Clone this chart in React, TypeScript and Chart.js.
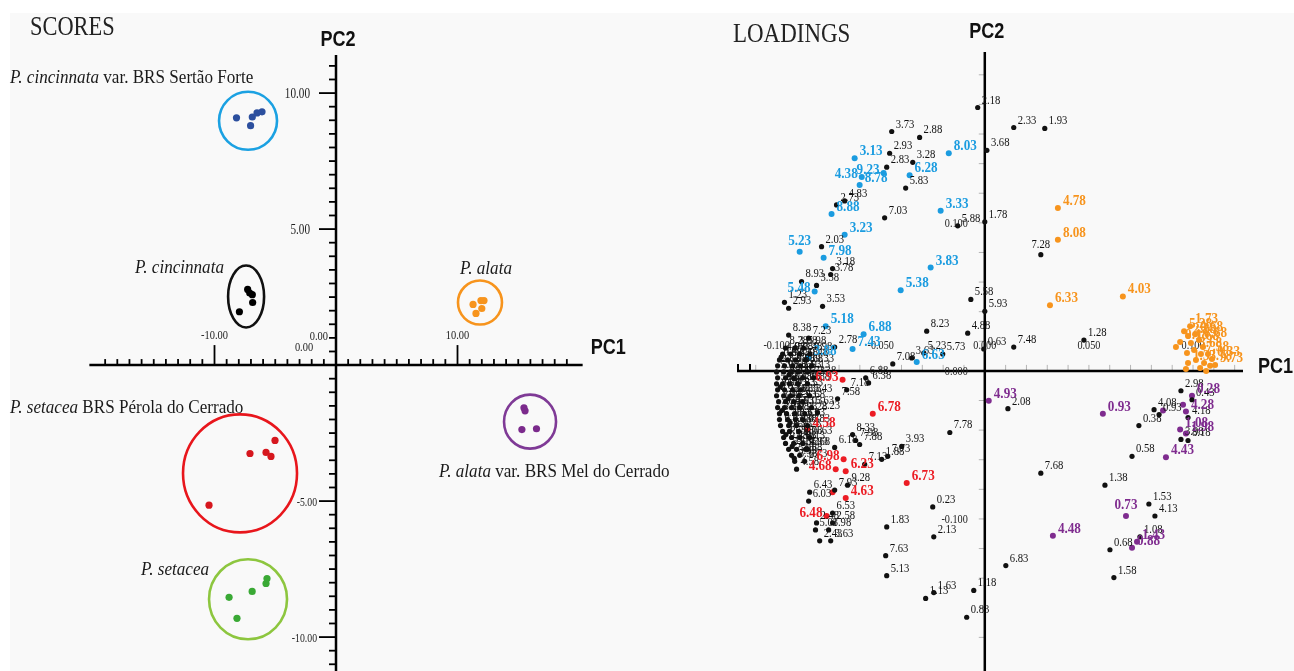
import React, { useEffect, useRef } from "react";
import { Chart, registerables } from "chart.js";
Chart.register(...registerables);

// ================= SCORES data =================
const sertaoForteX = [-8.19, -7.03, -6.89, -6.5, -6.09];
const sertaoForteY = [9.09, 8.8, 9.12, 9.27, 9.31];
const cincinnataX = [-7.27, -6.89, -6.86, -7.95, -7.1];
const cincinnataY = [2.78, 2.59, 2.3, 1.96, 2.65];
const alataX = [11.28, 11.93, 12.18, 11.52, 12.0];
const alataY = [2.23, 2.37, 2.37, 1.9, 2.08];
const melX = [15.47, 15.56, 15.3, 16.5];
const melY = [-1.57, -1.68, -2.37, -2.34];
const perolaX = [-5.02, -7.08, -5.76, -5.35, -10.45];
const perolaY = [-2.77, -3.25, -3.21, -3.36, -5.15];
const setaceaX = [-8.8, -8.15, -6.9, -5.76, -5.68];
const setaceaY = [-8.54, -9.31, -8.32, -8.03, -7.85];
// centres of the group rings
const groupCenterX = [-7.24, -7.4, 11.85, 15.97, -7.9, -7.24];
const groupCenterY = [8.98, 2.52, 2.3, -2.08, -3.98, -8.61];
// group names (italic part, roman part)
const groupNames: [string, string][] = [
  ["P. cincinnata", " var. BRS Sertão Forte"],
  ["P. cincinnata", ""],
  ["P. alata", ""],
  ["P. alata", " var. BRS Mel do Cerrado"],
  ["P. setacea", " BRS Pérola do Cerrado"],
  ["P. setacea", ""],
];
const scoreXTickLabels = [-10, 0, 10];
const scoreYTickLabels = [10, 5, 0, -5, -10];

// ================= LOADINGS data =================
type LP = [number, number, string];
const blackLoadings: LP[] = [
  [-0.0034, 0.1779, "2.18"], [-0.0447, 0.1617, "3.73"], [-0.0313, 0.1577, "2.88"],
  [-0.0457, 0.147, "2.93"], [-0.0346, 0.1409, "3.28"], [-0.0471, 0.1376, "2.83"],
  [-0.038, 0.1235, "5.83"], [-0.0712, 0.1121, "2.73"], [-0.0673, 0.1148, "4.83"],
  [-0.0481, 0.1034, "7.03"], [-0.013, 0.098, "5.88"], [0.0, 0.1007, "1.78"],
  [-0.0784, 0.0839, "2.03"], [-0.0731, 0.0691, "3.18"], [-0.074, 0.0651, "3.78"],
  [-0.088, 0.0604, "8.93"], [-0.0808, 0.0577, "3.58"], [-0.0962, 0.0463, "1.23"],
  [-0.0942, 0.0423, "2.93"], [-0.0779, 0.0436, "3.53"], [-0.0846, 0.0221, "7.23"],
  [-0.0942, 0.0242, "8.38"], [-0.0721, 0.0161, "2.78"], [-0.0442, 0.0047, "7.08"],
  [-0.0351, 0.0087, "3.63"], [-0.0293, 0.0121, "5.23"], [-0.0202, 0.0114, "5.73"],
  [-0.0279, 0.0268, "8.23"], [-0.0082, 0.0255, "4.88"], [-0.0067, 0.0483, "5.58"],
  [0.0, 0.0403, "5.93"], [-0.0005, 0.0148, "0.63"], [0.0139, 0.0161, "7.48"],
  [0.0476, 0.0208, "1.28"], [0.0139, 0.1644, "2.33"], [0.0288, 0.1638, "1.93"],
  [0.001, 0.149, "3.68"], [0.0269, 0.0785, "7.28"], [-0.0572, -0.0047, "6.88"],
  [-0.0558, -0.0081, "6.38"], [-0.0663, -0.0128, "7.18"], [-0.0707, -0.0188, "7.58"],
  [-0.0803, -0.0282, "2.23"], [-0.0635, -0.043, "8.33"], [-0.062, -0.047, "7.98"],
  [-0.0601, -0.0497, "7.88"], [-0.0721, -0.0517, "6.18"], [-0.0577, -0.0631, "7.13"],
  [-0.0495, -0.0597, "1.88"], [-0.0466, -0.0577, "7.73"], [-0.0399, -0.051, "3.93"],
  [-0.0168, -0.0416, "7.78"], [-0.025, -0.0919, "0.23"], [-0.0471, -0.1054, "1.83"],
  [-0.0245, -0.1121, "2.13"], [-0.0476, -0.1248, "7.63"], [-0.0471, -0.1383, "5.13"],
  [-0.0245, -0.1497, "1.63"], [-0.0284, -0.1537, "1.13"], [-0.0053, -0.1483, "1.18"],
  [-0.0087, -0.1664, "0.83"], [0.0101, -0.1315, "6.83"], [0.0111, -0.0255, "2.08"],
  [0.0269, -0.0691, "7.68"], [0.0577, -0.0772, "1.38"], [0.0788, -0.0899, "1.53"],
  [0.0817, -0.098, "4.13"], [0.0745, -0.1121, "1.08"], [0.0601, -0.1208, "0.68"],
  [0.062, -0.1396, "1.58"], [0.0707, -0.0577, "0.58"], [0.074, -0.0369, "0.38"],
  [0.0813, -0.0262, "4.08"], [0.0837, -0.0295, "0.93"], [0.0995, -0.0195, "0.43"],
  [0.0942, -0.0134, "2.98"], [0.0976, -0.0315, "4.18"], [0.0942, -0.0463, "3.98"],
  [0.0976, -0.047, "8.18"], [-0.0808, -0.1027, "2.48"], [-0.0731, -0.1027, "2.58"],
  [-0.0731, -0.096, "6.53"], [-0.0793, -0.1148, "2.43"], [-0.074, -0.1148, "3.63"],
  [-0.0813, -0.1074, "5.03"], [-0.075, -0.1074, "1.98"], [-0.0841, -0.0819, "6.43"],
  [-0.0846, -0.0879, "6.03"], [-0.0721, -0.0805, "7.93"], [-0.0659, -0.0772, "9.28"],
  [-0.0851, -0.053, "5.68"],
];
// dense group of loadings near PC1 = -0.09
const denseLoadings: LP[] = [
  [-0.0957, 0.0154, "8.28"], [-0.0913, 0.0154, "3.08"], [-0.087, 0.0154, "5.98"],
  [-0.0971, 0.0114, "4.98"], [-0.0933, 0.0114, "9.08"], [-0.0889, 0.0114, "3.48"], [-0.0841, 0.0114, "9.98"],
  [-0.0986, 0.0074, "0.98"], [-0.0947, 0.0074, "8.48"], [-0.0909, 0.0074, "6.58"], [-0.0861, 0.0074, "9.48"],
  [-0.0995, 0.0034, "2.63"], [-0.0962, 0.0034, "3.98"], [-0.0923, 0.0034, "8.58"], [-0.0885, 0.0034, "8.68"], [-0.0832, 0.0034, "9.33"],
  [-0.1, -0.0007, "5.08"], [-0.0966, -0.0007, "9.58"], [-0.0933, -0.0007, "7.33"], [-0.0894, -0.0007, "2.53"], [-0.0851, -0.0007, "9.13"],
  [-0.0995, -0.0047, "7.48"], [-0.0957, -0.0047, "8.73"], [-0.0918, -0.0047, "4.73"], [-0.0875, -0.0047, "9.73"], [-0.0822, -0.0047, "2.38"],
  [-0.1, -0.0087, "5.33"], [-0.0971, -0.0087, "9.63"], [-0.0938, -0.0087, "1.48"], [-0.0899, -0.0087, "6.08"], [-0.0851, -0.0087, "9.88"],
  [-0.0995, -0.0128, "8.98"], [-0.0962, -0.0128, "3.43"], [-0.0923, -0.0128, "7.53"], [-0.0885, -0.0128, "8.53"],
  [-0.1, -0.0168, "4.23"], [-0.0966, -0.0168, "9.38"], [-0.0933, -0.0168, "2.68"], [-0.0894, -0.0168, "7.38"], [-0.0841, -0.0168, "5.43"],
  [-0.099, -0.0208, "8.43"], [-0.0957, -0.0208, "9.53"], [-0.0918, -0.0208, "5.53"], [-0.0875, -0.0208, "6.68"],
  [-0.0995, -0.0248, "5.78"], [-0.0962, -0.0248, "6.13"], [-0.0928, -0.0248, "4.53"], [-0.0889, -0.0248, "9.03"], [-0.0832, -0.0248, "5.63"],
  [-0.0986, -0.0289, "3.38"], [-0.0952, -0.0289, "8.08"], [-0.0913, -0.0289, "9.93"], [-0.0865, -0.0289, "2.28"],
  [-0.0986, -0.0329, "6.28"], [-0.0947, -0.0329, "4.33"], [-0.0909, -0.0329, "8.63"], [-0.0875, -0.0329, "3.03"],
  [-0.0981, -0.0369, "9.43"], [-0.0942, -0.0369, "0.48"], [-0.0904, -0.0369, "4.03"], [-0.0851, -0.0369, "8.83"],
  [-0.0971, -0.0409, "7.83"], [-0.0938, -0.0409, "6.23"], [-0.0894, -0.0409, "9.23"],
  [-0.0966, -0.045, "3.73"], [-0.0928, -0.045, "5.88"], [-0.0889, -0.045, "7.08"], [-0.0841, -0.045, "6.63"],
  [-0.0957, -0.049, "9.78"], [-0.0918, -0.049, "4.88"], [-0.0875, -0.049, "8.13"],
  [-0.0942, -0.053, "5.18"], [-0.0904, -0.053, "6.93"], [-0.0861, -0.053, "4.93"],
  [-0.0928, -0.057, "7.18"], [-0.0889, -0.057, "8.88"],
  [-0.0913, -0.0611, "5.38"], [-0.0865, -0.0611, "6.73"],
  [-0.0904, -0.0664, "4.58"],
  [-0.0978, 0.0094, "1.03"], [-0.094, -0.0027, "2.88"], [-0.0982, -0.0107, "6.48"],
  [-0.0945, -0.0188, "3.23"], [-0.0975, -0.0268, "7.63"], [-0.0935, -0.0349, "2.13"],
  [-0.0955, -0.043, "8.38"], [-0.0925, -0.051, "0.73"], [-0.0915, -0.059, "3.33"],
];
const blueLoadings: LP[] = [
  [-0.0625, 0.1436, "3.13"], [-0.0486, 0.1336, "9.23"], [-0.0591, 0.1309, "4.38"],
  [-0.0601, 0.1255, "8.78"], [-0.0361, 0.1322, "6.28"], [-0.0173, 0.147, "8.03"],
  [-0.0212, 0.1081, "3.33"], [-0.0736, 0.106, "8.88"], [-0.0673, 0.0919, "3.23"],
  [-0.0889, 0.0805, "5.23"], [-0.0774, 0.0765, "7.98"], [-0.026, 0.0698, "3.83"],
  [-0.0404, 0.0544, "5.38"], [-0.0817, 0.0537, "5.48"], [-0.0764, 0.0302, "5.18"],
  [-0.0582, 0.0248, "6.88"], [-0.0846, 0.0087, "3.88"], [-0.0635, 0.0148, "7.43"],
  [-0.0327, 0.006, "6.63"],
];
const redLoadings: LP[] = [
  [-0.0683, -0.006, "6.93"], [-0.0538, -0.0289, "6.78"], [-0.0851, -0.0396, "4.58"],
  [-0.0678, -0.0597, "6.98"], [-0.0716, -0.0664, "4.68"], [-0.0668, -0.0678, "6.23"],
  [-0.0375, -0.0758, "6.73"], [-0.0668, -0.0859, "4.63"], [-0.0731, -0.0819, ""],
  [-0.076, -0.098, "6.48"],
];
const orangeLoadings: LP[] = [
  [0.0351, 0.1101, "4.78"], [0.0351, 0.0886, "8.08"], [0.0313, 0.0443, "6.33"],
  [0.0663, 0.0503, "4.03"], [0.0986, 0.0302, "1.73"], [0.0957, 0.0268, "5.28"],
  [0.0976, 0.0235, "2.28"], [0.101, 0.0248, "0.68"], [0.0918, 0.0161, ""],
  [0.0938, 0.0195, "0.18"], [0.099, 0.0188, "1.68"], [0.1029, 0.0208, "8.68"],
  [0.1048, 0.0161, ""], [0.0971, 0.0121, ""], [0.1005, 0.0141, "3.68"],
  [0.1038, 0.0114, "7.58"], [0.1072, 0.0114, ""], [0.1091, 0.0081, "0.33"],
  [0.1014, 0.0074, ""], [0.1053, 0.0054, "2.78"], [0.0976, 0.0054, "1.33"],
  [0.1082, 0.0034, ""], [0.1034, 0.002, ""], [0.1106, 0.004, "9.73"],
  [0.0966, 0.0013, ""], [0.1063, 0.0, ""],
];
const purpleLoadings: LP[] = [
  [0.0019, -0.0201, "4.93"], [0.0567, -0.0289, "0.93"], [0.0966, -0.0275, "4.28"],
  [0.0995, -0.0168, "0.28"], [0.0938, -0.0396, "1.08"], [0.0966, -0.0423, "1.98"],
  [0.087, -0.0584, "4.43"], [0.0678, -0.098, "0.73"], [0.0327, -0.1114, "4.48"],
  [0.0731, -0.1154, "1.43"], [0.0707, -0.1195, "0.88"], [0.0856, -0.0268, ""],
  [0.0952, -0.0228, ""],
];
const loadXTickLabels = [-0.1, -0.05, 0, 0.05, 0.1];
const loadYTickLabels = [0.1, 0, -0.1];

// ================= styles / layout =================
const SERIF = '"Liberation Serif", "Times New Roman", serif';
const SANS = '"Liberation Sans", Arial, sans-serif';
const GROUP_STYLE = [
  { point: "#2c4f9e", ring: "#1ba1e2", rx: 29, ry: 29 },
  { point: "#000000", ring: "#111111", rx: 18, ry: 31 },
  { point: "#f7941d", ring: "#f7941d", rx: 22, ry: 22 },
  { point: "#7b2a8c", ring: "#7f3a96", rx: 26, ry: 27 },
  { point: "#d6171e", ring: "#e8161c", rx: 57, ry: 59 },
  { point: "#3aa935", ring: "#8dc63f", rx: 39, ry: 40 },
];
// group name placement (canvas px): x, baseline
const GROUP_LABEL_POS = [
  [10, 83], [135, 273], [460, 274], [439, 477], [10, 413], [141, 575],
];
const LOAD_COLORS: Record<string, string> = {
  black: "#111111", blue: "#1b9ce0", red: "#ec1c24", orange: "#f7941d", purple: "#7f2c8f",
};
const LEFT_LABELS = new Set(["blue:9.23", "blue:4.38", "blue:5.48", "red:6.93", "red:4.68", "red:6.98", "red:6.48"]);
const ABOVE_LABELS = new Set(["blue:5.23", "black:7.28", "purple:0.73"]);

type Seg = { t: string; it?: boolean };
type TOpt = { size: number; fam?: string; bold?: boolean; color?: string; sx?: number; align?: "left" | "right" | "center" };
function drawText(ctx: CanvasRenderingContext2D, segs: Seg[] | string, x: number, y: number, o: TOpt) {
  const list: Seg[] = typeof segs === "string" ? [{ t: segs }] : segs;
  const sx = o.sx ?? 1;
  const fontFor = (s: Seg) => `${s.it ? "italic " : ""}${o.bold ? "bold " : ""}${o.size}px ${o.fam ?? SERIF}`;
  ctx.save();
  ctx.fillStyle = o.color ?? "#000";
  ctx.textBaseline = "alphabetic";
  ctx.textAlign = "left";
  let total = 0;
  const widths = list.map((s) => {
    ctx.font = fontFor(s);
    const w = ctx.measureText(s.t).width;
    total += w;
    return w;
  });
  let cx = o.align === "right" ? -total : o.align === "center" ? -total / 2 : 0;
  ctx.translate(x, y);
  ctx.scale(sx, 1);
  list.forEach((s, i) => {
    ctx.font = fontFor(s);
    ctx.fillText(s.t, cx, 0);
    cx += widths[i];
  });
  ctx.restore();
}
function seg(ctx: CanvasRenderingContext2D, x1: number, y1: number, x2: number, y2: number) {
  ctx.beginPath();
  ctx.moveTo(x1, y1);
  ctx.lineTo(x2, y2);
  ctx.stroke();
}

const scoresPlugin = {
  id: "scoresDecor",
  beforeDatasetsDraw(chart: any) {
    const ctx: CanvasRenderingContext2D = chart.ctx;
    const xs = chart.scales.x, ys = chart.scales.y;
    const X = (v: number) => xs.getPixelForValue(v);
    const Y = (v: number) => ys.getPixelForValue(v);
    const ox = X(0), oy = Y(0);
    ctx.save();
    ctx.strokeStyle = "#000";
    ctx.lineWidth = 2.5;
    seg(ctx, X(-20.3), oy, X(20.3), oy);
    seg(ctx, ox, chart.chartArea.top, ox, chart.height);
    ctx.lineWidth = 1.8;
    for (let v = -19; v <= 19; v++) {
      if (v === 0) continue;
      const len = Math.abs(v) === 10 ? 20 : 6;
      seg(ctx, X(v), oy, X(v), oy - len);
    }
    for (let v = -11; v <= 11; v += 0.5) {
      if (v === 0) continue;
      const len = Math.abs(v) % 5 === 0 ? 17 : 7;
      seg(ctx, ox, Y(v), ox - len, Y(v));
    }
    // tick labels
    scoreYTickLabels.forEach((v) => {
      const t = v.toFixed(2);
      if (v === 0) drawText(ctx, t, ox - 8, oy - 25, { size: 13, sx: 0.8, align: "right", color: "#222" });
      else if (v > 0) drawText(ctx, t, ox - 26, Y(v) + 5, { size: 14, sx: 0.8, align: "right", color: "#222" });
      else drawText(ctx, t, ox - 19, Y(v) + 5, { size: 13, sx: 0.75, align: "right", color: "#222" });
    });
    scoreXTickLabels.forEach((v) => {
      const t = v.toFixed(2);
      if (v === 0) drawText(ctx, t, ox - 32, oy - 14, { size: 13, sx: 0.8, align: "center", color: "#222" });
      else drawText(ctx, t, X(v), oy - 26, { size: 13, sx: 0.8, align: "center", color: "#222" });
    });
    // group rings
    ctx.lineWidth = 2.6;
    groupCenterX.forEach((cx, i) => {
      const st = GROUP_STYLE[i];
      ctx.strokeStyle = st.ring;
      ctx.beginPath();
      ctx.ellipse(X(cx), Y(groupCenterY[i]), st.rx, st.ry, 0, 0, Math.PI * 2);
      ctx.stroke();
    });
    ctx.restore();
    // titles
    drawText(ctx, "SCORES", 30, 35, { size: 28, sx: 0.8, color: "#222" });
    drawText(ctx, "PC2", ox + 2, 46, { size: 22, fam: SANS, bold: true, sx: 0.82, align: "center", color: "#111" });
    drawText(ctx, "PC1", X(20.3) + 8, oy - 11, { size: 22, fam: SANS, bold: true, sx: 0.82, color: "#111" });
    groupNames.forEach(([it, rest], i) => {
      const [lx, ly] = GROUP_LABEL_POS[i];
      drawText(ctx, [{ t: it, it: true }, { t: rest }], lx, ly, { size: 18, sx: 0.95, color: "#1a1a1a" });
    });
  },
};

const LOAD_SERIES: { key: string; pts: LP[] }[] = [
  { key: "black", pts: blackLoadings.concat(denseLoadings) },
  { key: "blue", pts: blueLoadings },
  { key: "red", pts: redLoadings },
  { key: "orange", pts: orangeLoadings },
  { key: "purple", pts: purpleLoadings },
];

const loadingsPlugin = {
  id: "loadingsDecor",
  beforeDatasetsDraw(chart: any) {
    const ctx: CanvasRenderingContext2D = chart.ctx;
    const xs = chart.scales.x, ys = chart.scales.y;
    const X = (v: number) => xs.getPixelForValue(v);
    const Y = (v: number) => ys.getPixelForValue(v);
    const ox = X(0), oy = Y(0);
    ctx.save();
    ctx.strokeStyle = "#b5b5b5";
    ctx.lineWidth = 1;
    for (let i = -11; i <= 12; i++) {
      if (i === 0) continue;
      seg(ctx, X(i / 100), oy, X(i / 100), oy - 6);
    }
    for (let i = -9; i <= 10; i++) {
      if (i === 0) continue;
      seg(ctx, ox, Y(i / 50), ox - 6, Y(i / 50));
    }
    ctx.strokeStyle = "#000";
    ctx.lineWidth = 2.5;
    seg(ctx, chart.chartArea.left, oy, chart.chartArea.right, oy);
    seg(ctx, ox, chart.chartArea.top, ox, chart.height);
    ctx.lineWidth = 2;
    seg(ctx, chart.chartArea.left + 1, oy, chart.chartArea.left + 1, oy - 7);
    seg(ctx, chart.chartArea.left + 13, oy, chart.chartArea.left + 13, oy - 7);
    ctx.restore();
    loadXTickLabels.forEach((v) => {
      drawText(ctx, v.toFixed(3), X(v), oy - 22, { size: 12, sx: 0.85, align: "center", color: "#222" });
    });
    loadYTickLabels.forEach((v) => {
      drawText(ctx, v.toFixed(3), ox - 17, Y(v) + 4, { size: 12, sx: 0.85, align: "right", color: "#222" });
    });
    drawText(ctx, "LOADINGS", 33, 42, { size: 28, sx: 0.82, color: "#222" });
    drawText(ctx, "PC2", ox + 2, 38, { size: 22, fam: SANS, bold: true, sx: 0.82, align: "center", color: "#111" });
    drawText(ctx, "PC1", chart.chartArea.right + 15, oy + 2, { size: 22, fam: SANS, bold: true, sx: 0.82, color: "#111" });
  },
  afterDatasetsDraw(chart: any) {
    const ctx: CanvasRenderingContext2D = chart.ctx;
    const xs = chart.scales.x, ys = chart.scales.y;
    LOAD_SERIES.forEach(({ key, pts }) => {
      const isBlack = key === "black";
      pts.forEach(([x, y, label]) => {
        if (!label) return;
        const px = xs.getPixelForValue(x), py = ys.getPixelForValue(y);
        const id = `${key}:${label}`;
        const opt: TOpt = isBlack
          ? { size: 12.5, sx: 0.85, color: "#111" }
          : { size: 15.5, sx: 0.85, bold: true, color: LOAD_COLORS[key] };
        if (LEFT_LABELS.has(id)) drawText(ctx, label, px - 4, py + 1, { ...opt, align: "right" });
        else if (ABOVE_LABELS.has(id)) drawText(ctx, label, px, py - 7, { ...opt, align: "center" });
        else drawText(ctx, label, px + (isBlack ? 4 : 5), py - (isBlack ? 4 : 3), opt);
      });
    });
  },
};

export default function App() {
  const leftRef = useRef<HTMLCanvasElement>(null);
  const rightRef = useRef<HTMLCanvasElement>(null);
  useEffect(() => {
    document.body.style.margin = "0";
    const groups = [
      [sertaoForteX, sertaoForteY], [cincinnataX, cincinnataY], [alataX, alataY],
      [melX, melY], [perolaX, perolaY], [setaceaX, setaceaY],
    ];
    const c1 = new Chart(leftRef.current as HTMLCanvasElement, {
      type: "scatter",
      data: {
        datasets: groups.map(([gx, gy], i) => ({
          label: groupNames[i].join(""),
          data: gx.map((x, j) => ({ x, y: gy[j] })),
          pointRadius: 3.6,
          pointBackgroundColor: GROUP_STYLE[i].point,
          pointBorderWidth: 0,
          clip: false as any,
        })),
      },
      options: {
        responsive: false,
        animation: false,
        events: [],
        layout: { padding: { left: 93, right: 121, top: 55, bottom: 0 } },
        scales: {
          x: { type: "linear", min: -20, max: 20, display: false },
          y: { type: "linear", min: -11.1, max: 11.4, display: false },
        },
        plugins: { legend: { display: false }, tooltip: { enabled: false } },
      },
      plugins: [scoresPlugin],
    });
    const c2 = new Chart(rightRef.current as HTMLCanvasElement, {
      type: "scatter",
      data: {
        datasets: LOAD_SERIES.map(({ key, pts }) => ({
          label: key,
          data: pts.map(([x, y]) => ({ x, y })),
          pointRadius: key === "black" ? 2.6 : 3,
          pointBackgroundColor: LOAD_COLORS[key],
          pointBorderWidth: 0,
          clip: false as any,
        })),
      },
      options: {
        responsive: false,
        animation: false,
        events: [],
        layout: { padding: { left: 37, right: 51, top: 52, bottom: 0 } },
        scales: {
          x: { type: "linear", min: -0.119, max: 0.124, display: false },
          y: { type: "linear", min: -0.2, max: 0.2154, display: false },
        },
        plugins: { legend: { display: false }, tooltip: { enabled: false } },
      },
      plugins: [loadingsPlugin],
    });
    return () => {
      c1.destroy();
      c2.destroy();
    };
  }, []);
  return (
    <div style={{ position: "relative", width: 1294, height: 671, background: "#ffffff", overflow: "hidden" }}>
      <div style={{ position: "absolute", left: 10, top: 13, right: 0, bottom: 0, background: "#f9f9f9" }} />
      <canvas ref={leftRef} width={700} height={671} style={{ position: "absolute", left: 0, top: 0 }} />
      <canvas ref={rightRef} width={594} height={671} style={{ position: "absolute", left: 700, top: 0 }} />
    </div>
  );
}
